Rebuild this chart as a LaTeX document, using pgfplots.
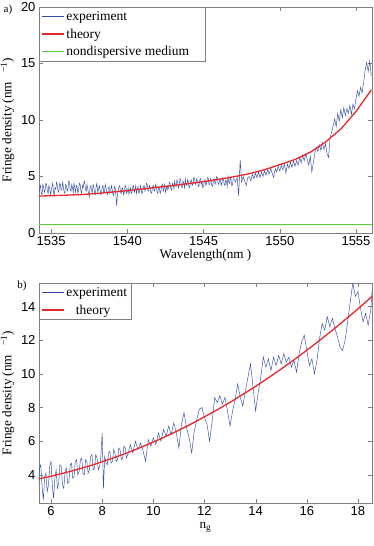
\documentclass[border=0pt]{standalone}
\usepackage{fontspec}
\setmainfont{Liberation Serif}
\setsansfont{Liberation Sans}
\usepackage{pgfplots}
\pgfplotsset{compat=1.18}
\usepackage{pgfplotstable}

\definecolor{expblue}{rgb}{0.20,0.30,0.66}
\definecolor{thred}{rgb}{0.92,0.15,0.15}
\definecolor{ndgreen}{rgb}{0.35,0.80,0.20}
\definecolor{framegray}{gray}{0.5}

% top panel: fringe density vs wavelength
\pgfplotstableread{
x y
1534.20 3.6
1534.25 4.0
1534.30 4.2
1534.35 3.5
1534.40 3.4
1534.45 4.3
1534.50 4.1
1534.55 3.6
1534.60 3.8
1534.65 4.4
1534.70 4.3
1534.75 3.7
1534.80 3.5
1534.85 4.2
1534.90 4.0
1534.95 3.4
1535.00 3.7
1535.05 4.1
1535.10 4.4
1535.15 3.6
1535.20 3.3
1535.25 4.0
1535.30 3.9
1535.35 4.5
1535.40 4.2
1535.45 3.7
1535.50 3.6
1535.55 4.4
1535.60 4.3
1535.65 3.8
1535.70 3.8
1535.75 4.5
1535.80 4.1
1535.85 3.6
1535.90 3.5
1535.95 4.3
1536.00 4.2
1536.05 3.7
1536.10 3.9
1536.15 4.6
1536.20 4.5
1536.25 3.8
1536.30 3.7
1536.35 4.3
1536.40 4.0
1536.45 3.6
1536.50 4.4
1536.55 4.0
1536.60 3.6
1536.65 4.2
1536.70 4.1
1536.75 3.5
1536.80 3.8
1536.85 4.4
1536.90 4.3
1536.95 3.7
1537.00 3.5
1537.05 4.2
1537.10 4.0
1537.15 4.5
1537.20 4.6
1537.25 3.8
1537.30 3.7
1537.35 4.3
1537.40 3.9
1537.45 3.5
1537.50 3.2
1537.55 4.0
1537.60 4.2
1537.65 3.7
1537.70 3.6
1537.75 4.3
1537.80 4.1
1537.85 3.5
1537.90 3.4
1537.95 4.1
1538.00 4.4
1538.05 3.6
1538.10 3.8
1538.15 4.2
1538.20 3.9
1538.25 3.4
1538.30 3.5
1538.35 4.1
1538.40 4.2
1538.45 3.6
1538.50 3.7
1538.55 4.3
1538.60 4.0
1538.65 3.5
1538.70 3.4
1538.75 4.0
1538.80 4.1
1538.85 3.5
1538.90 3.6
1538.95 4.2
1539.00 3.9
1539.05 3.4
1539.10 3.3
1539.15 4.1
1539.20 4.0
1539.25 3.2
1539.30 2.4
1539.35 3.5
1539.40 3.7
1539.45 4.1
1539.50 4.2
1539.55 3.6
1539.60 3.5
1539.65 4.0
1539.70 3.9
1539.75 3.4
1539.80 3.6
1539.85 4.2
1539.90 4.1
1539.95 3.5
1540.00 3.7
1540.05 4.0
1540.10 3.4
1540.15 3.8
1540.20 4.0
1540.25 3.5
1540.30 3.6
1540.35 4.1
1540.40 4.2
1540.45 3.6
1540.50 3.8
1540.55 4.2
1540.60 3.5
1540.65 3.9
1540.70 4.1
1540.75 3.5
1540.80 3.7
1540.85 4.2
1540.90 4.0
1540.95 3.5
1541.00 3.6
1541.05 4.1
1541.10 4.2
1541.15 3.7
1541.20 3.9
1541.25 4.4
1541.30 4.3
1541.35 3.7
1541.40 3.7
1541.45 4.2
1541.50 4.0
1541.55 3.5
1541.60 3.6
1541.65 4.1
1541.70 4.2
1541.75 3.7
1541.80 3.8
1541.85 4.3
1541.90 4.1
1541.95 3.6
1542.00 3.5
1542.05 4.1
1542.10 4.0
1542.15 3.5
1542.20 3.7
1542.25 4.2
1542.30 4.3
1542.35 3.7
1542.40 3.9
1542.45 4.3
1542.50 3.6
1542.55 3.9
1542.60 4.2
1542.65 3.8
1542.70 4.0
1542.75 4.5
1542.80 4.4
1542.85 3.9
1542.90 3.8
1542.95 4.4
1543.00 4.3
1543.05 3.9
1543.10 4.6
1543.15 4.2
1543.20 4.1
1543.25 4.7
1543.30 4.5
1543.35 4.0
1543.40 4.2
1543.45 4.8
1543.50 4.7
1543.55 4.1
1543.60 4.0
1543.65 4.6
1543.70 4.4
1543.75 4.0
1543.80 4.8
1543.85 4.3
1543.90 4.2
1543.95 4.7
1544.00 4.5
1544.05 4.0
1544.10 4.1
1544.15 4.6
1544.20 4.7
1544.25 4.2
1544.30 4.3
1544.35 4.9
1544.40 4.9
1544.45 4.3
1544.50 4.4
1544.55 4.8
1544.60 4.6
1544.65 4.1
1544.70 4.2
1544.75 4.7
1544.80 4.8
1544.85 4.3
1544.90 4.5
1544.95 4.0
1545.00 4.1
1545.05 4.6
1545.10 4.7
1545.15 4.2
1545.20 4.4
1545.25 4.9
1545.30 4.9
1545.35 4.3
1545.40 4.3
1545.45 4.8
1545.50 4.6
1545.55 4.1
1545.60 4.2
1545.65 4.7
1545.70 4.8
1545.75 4.3
1545.80 4.5
1545.85 5.0
1545.90 4.9
1545.95 4.4
1546.00 4.3
1546.05 4.8
1546.10 4.7
1546.15 4.2
1546.20 4.4
1546.25 4.9
1546.30 4.8
1546.35 4.3
1546.40 4.2
1546.45 4.7
1546.50 4.6
1546.55 4.1
1546.60 5.0
1546.65 4.5
1546.70 4.4
1546.75 4.9
1546.80 4.7
1546.85 4.2
1546.90 4.3
1546.95 4.8
1547.00 4.8
1547.1 4.5
1547.2 4.9
1547.3 3.3
1547.4 6.5
1547.5 4.5
1547.6 5.0
1547.7 4.6
1547.8 4.2
1547.9 4.9
1548.0 5.0
1548.1 4.6
1548.2 5.2
1548.3 4.8
1548.4 5.3
1548.5 4.9
1548.6 5.4
1548.7 4.9
1548.8 5.4
1548.9 5.0
1549.0 5.5
1549.1 5.1
1549.2 5.6
1549.3 5.2
1549.4 5.7
1549.5 5.3
1549.6 4.9
1549.7 5.7
1549.8 5.4
1549.9 5.9
1550.0 5.5
1550.1 6.0
1550.2 5.6
1550.3 6.1
1550.4 5.3
1550.5 6.1
1550.6 5.7
1550.7 6.3
1550.8 5.8
1550.9 6.4
1551.0 5.9
1551.1 6.4
1551.2 6.0
1551.3 6.7
1551.4 6.2
1551.5 6.9
1551.6 6.4
1551.7 7.0
1551.8 6.5
1551.9 6.0
1552.0 6.8
1552.1 5.4
1552.2 6.2
1552.3 7.1
1552.4 7.6
1552.5 7.2
1552.6 7.8
1552.7 7.3
1552.8 8.0
1552.9 7.4
1553.0 7.9
1553.1 7.0
1553.2 6.7
1553.3 8.4
1553.4 8.9
1553.5 9.5
1553.6 10.1
1553.7 9.4
1553.8 10.6
1553.9 9.9
1554.0 10.9
1554.1 10.2
1554.2 11.1
1554.3 10.4
1554.4 11.0
1554.5 10.6
1554.6 11.3
1554.7 10.5
1554.8 11.4
1554.9 11.0
1555.0 11.9
1555.1 12.6
1555.2 12.1
1555.3 12.9
1555.4 12.4
1555.5 13.3
1555.6 14.4
1555.7 15.1
1555.8 14.3
1555.9 15.2
1556.0 13.9
}\expA

\pgfplotstableread{
x y
1534.2 3.27
1535 3.30
1536 3.35
1537 3.40
1538 3.50
1539 3.62
1540 3.75
1541 3.90
1542 4.05
1543 4.20
1544 4.37
1545 4.55
1546 4.75
1547 4.98
1548 5.25
1549 5.60
1550 6.05
1551 6.50
1552 7.15
1553 8.05
1554 9.20
1555 10.75
1556 12.65
}\thA

% bottom panel: fringe density vs group index
\pgfplotstableread{
x y
5.50 3.2
5.55 4.4
5.60 4.6
5.65 3.3
5.70 2.5
5.75 3.9
5.80 4.1
5.85 3.0
5.90 3.4
5.95 4.5
6.00 4.8
6.05 3.4
6.10 2.6
6.15 3.8
6.20 4.3
6.25 3.2
6.30 3.5
6.35 4.6
6.40 4.5
6.45 3.4
6.50 3.2
6.55 4.2
6.60 4.4
6.65 3.5
6.70 3.6
6.75 4.6
6.80 4.7
6.85 3.8
6.90 3.9
6.95 4.8
7.00 4.9
7.05 4.0
7.10 4.2
7.15 4.9
7.20 5.0
7.25 4.1
7.30 4.0
7.35 4.9
7.40 4.8
7.45 4.1
7.50 4.3
7.55 5.1
7.60 5.2
7.65 4.3
7.70 4.4
7.75 5.2
7.80 5.0
7.85 4.3
7.90 4.5
7.95 5.1
8.00 6.5
8.05 3.2
8.10 5.1
8.15 4.7
8.20 4.6
8.25 5.3
8.30 5.4
8.35 4.7
8.40 4.8
8.45 5.5
8.50 5.3
8.55 4.8
8.60 4.9
8.65 5.6
8.70 5.5
8.75 4.9
8.80 5.0
8.85 5.7
8.90 5.6
8.95 5.0
9.00 5.2
9.1 5.8
9.2 5.3
9.3 6.0
9.4 5.5
9.5 5.9
9.6 5.4
9.7 4.8
9.8 6.1
9.9 5.7
10.0 6.2
10.1 5.8
10.2 6.5
10.3 6.0
10.4 6.7
10.5 6.3
10.6 6.9
10.7 6.4
10.8 7.1
10.9 6.5
11.0 5.6
11.1 7.0
11.2 7.7
11.3 6.8
11.4 6.2
11.5 5.3
11.6 6.6
11.7 7.3
11.8 7.9
11.9 8.0
12.0 7.4
12.1 7.0
12.2 6.0
12.3 7.2
12.4 8.6
12.5 8.3
12.6 8.7
12.7 8.2
12.8 8.6
12.9 7.8
13.0 6.9
13.1 7.8
13.2 8.5
13.3 9.4
13.4 8.6
13.5 8.1
13.6 9.0
13.7 9.8
13.8 10.6
13.9 9.2
14.0 7.8
14.1 8.9
14.2 9.8
14.3 11.0
14.4 10.4
14.5 10.9
14.6 10.2
14.7 11.0
14.8 10.5
14.9 11.1
15.0 10.6
15.1 11.2
15.2 10.7
15.3 11.0
15.4 10.4
15.5 10.8
15.6 10.1
15.7 11.2
15.8 11.9
15.9 12.3
16.0 11.4
16.1 10.5
16.2 10.9
16.3 10.0
16.4 10.8
16.5 12.1
16.6 13.0
16.7 12.6
16.8 13.4
16.9 12.8
17.0 13.3
17.1 12.7
17.2 12.2
17.3 11.6
17.4 11.4
17.5 12.0
17.6 13.1
17.7 14.3
17.8 15.4
17.9 14.6
18.0 14.9
18.1 13.9
18.2 13.1
18.3 13.6
18.4 12.9
18.5 13.8
18.55 14.9
}\expB

\pgfplotstableread{
x y
5.5 3.76
6.0 3.92
6.5 4.11
7.0 4.31
7.5 4.53
8.0 4.78
8.5 5.04
9.0 5.32
9.5 5.63
10.0 5.95
10.5 6.29
11.0 6.66
11.5 7.04
12.0 7.45
12.5 7.87
13.0 8.31
13.5 8.78
14.0 9.26
14.5 9.77
15.0 10.29
15.5 10.84
16.0 11.40
16.5 11.99
17.0 12.59
17.5 13.22
18.0 13.86
18.55 14.60
}\thB

\pgfplotsset{
  panel/.style={
    scale only axis, width=333pt,
    axis line style={framegray}, tick style={framegray},
    tick align=inside, major tick length=4pt,
    xtick pos=both, ytick pos=both,
    ticklabel style={font=\sffamily\fontsize{13}{13}\selectfont},
    /pgf/number format/assume math mode=true,
    /pgf/number format/1000 sep={},
    label style={font=\fontsize{13.2}{15}\selectfont},
    ylabel={Fringe density (nm\hspace{0.7em}\textsuperscript{−1})},
    legend cell align=left,
    legend style={at={(0,1)}, anchor=north west, draw=framegray,
      font=\fontsize{13.5}{15.5}\selectfont, row sep=3pt,
      inner xsep=2pt, inner ysep=2pt},
    legend image code/.code={\draw[##1] (0pt,0pt) -- (22pt,0pt);},
  }
}

\begin{document}
\begin{tikzpicture}
\begin{axis}[panel, name=top, at={(0,0)}, anchor=south west,
  height=226pt,
  xmin=1534.2, xmax=1556.05, ymin=0, ymax=20,
  xtick={1535,1540,...,1555}, ytick={0,5,...,20},
  xlabel={Wavelength(nm )},
  xlabel style={yshift=3pt}]
\addplot[expblue, line width=0.45pt] table {\expA};
\addlegendentry{experiment}
\addplot[thred, line width=1.3pt] table {\thA};
\addlegendentry{theory}
\addplot[ndgreen, line width=1pt] coordinates {(1534.2,0.72) (1556.05,0.72)};
\addlegendentry{nondispersive medium\hspace*{12pt}}
\end{axis}
\node[font=\fontsize{11}{12}\selectfont] at (-31pt,223pt) {a)};

\begin{axis}[panel, name=bot, at={(0,-50pt)}, anchor=north west,
  height=220pt,
  xmin=5.53, xmax=18.55, ymin=2.33, ymax=15.4,
  xtick={6,8,...,18}, ytick={4,6,...,14},
  xlabel={n\textsubscript{g}}]
\addplot[expblue, line width=0.45pt] table {\expB};
\addlegendentry{experiment}
\addplot[thred, line width=1.3pt] table {\thB};
\addlegendentry{\hspace*{0.7em}theory}
\end{axis}
\node[font=\fontsize{11}{12}\selectfont] at (-17pt,-53pt) {b)};

\pgfresetboundingbox
\path[use as bounding box] (-39pt,233pt) rectangle (334pt,-313pt);
\end{tikzpicture}
\end{document}
